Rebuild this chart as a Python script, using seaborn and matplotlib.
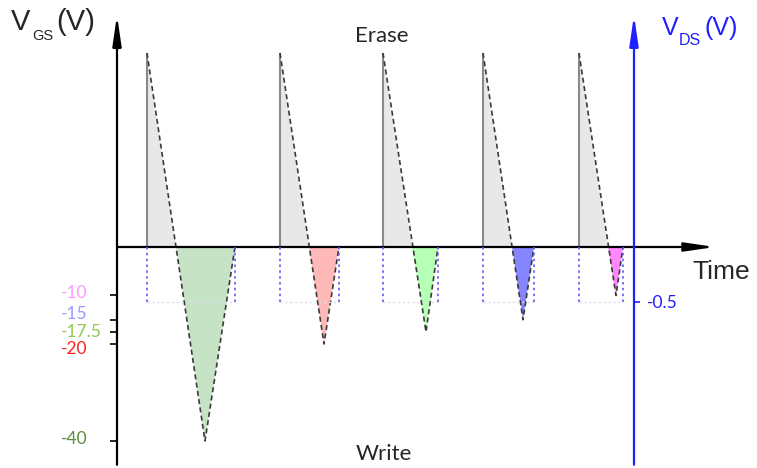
import matplotlib
matplotlib.use("Agg")
import matplotlib.pyplot as plt
import seaborn as sns
import pandas as pd

# Pulse timing (arbitrary time units) and voltage levels
pulse_start = [3.0, 16.3, 26.6, 36.6, 46.2]
zero_cross = [5.9, 19.2, 29.5, 39.5, 49.1]
write_apex = [8.8, 20.7, 30.9, 40.6, 49.9]
pulse_end = [11.8, 22.2, 32.1, 41.7, 50.6]
erase_v = [40, 40, 40, 40, 40]
write_v = [-40, -20, -17.5, -15, -10]
write_labels = ["-40", "-20", "-17.5", "-15", "-10"]
vds_level = -0.5

write_colors = ["#c6e3c6", "#ffb8b8", "#b6ffb6", "#8585ff", "#ff88ff"]
label_colors = ["#5e8a3c", "#ff2020", "#92c850", "#9a9aff", "#ff99ff"]
label_shift = [0.4, -1.1, 0.0, 1.2, 0.5]  # nudges so the labels don't collide
blue = "#1f1fff"

sns.set_theme(style="white")
plt.rcParams["font.family"] = ["Lato", "DejaVu Sans"]

W, H = 757, 468
fig = plt.figure(figsize=(W / 100, H / 100), dpi=100)
ax = fig.add_axes([0, 0, 1, 1])
ax.set_xlim(-11.7, 64.0)
ax.set_ylim(-45.57, 50.93)
for s in ax.spines.values():
    s.set_visible(False)
ax.set_xticks([])


def px(x, y):
    return x / W, 1 - y / H


# waveform table for seaborn
rows = []
for i in range(len(pulse_start)):
    rows.append({"pulse": i, "t": pulse_start[i], "v": erase_v[i]})
    rows.append({"pulse": i, "t": write_apex[i], "v": write_v[i]})
    rows.append({"pulse": i, "t": pulse_end[i], "v": 0})
df = pd.DataFrame(rows)

# fills
for i in range(len(pulse_start)):
    ax.fill([pulse_start[i], pulse_start[i], zero_cross[i]], [0, erase_v[i], 0],
            color="#e8e8e8", lw=0, zorder=1)
    ax.fill([zero_cross[i], write_apex[i], pulse_end[i]], [0, write_v[i], 0],
            color=write_colors[i], lw=0, zorder=1)
ax.vlines(pulse_start, 0, erase_v, color="#8a8a8a", lw=1.5, zorder=2)

sns.lineplot(data=df, x="t", y="v", units="pulse", estimator=None, sort=False,
             color="#3a3a3a", lw=1.2, linestyle=(0, (3, 2)), ax=ax, zorder=3)
ax.set_xlabel("")
ax.set_ylabel("")

# axes drawn as arrows
arrow = dict(arrowstyle="-|>,head_length=1.5,head_width=0.22", lw=1.6,
             shrinkA=0, shrinkB=0)
ax.annotate("", xy=(0, 47.8), xytext=(0, -44.9),
            arrowprops=dict(arrow, color="black"), zorder=5)
ax.annotate("", xy=(59.8, 0), xytext=(0, 0),
            arrowprops=dict(arrow, color="black"), zorder=5)
ax.annotate("", xy=(51.7, 47.8), xytext=(51.7, -44.9),
            arrowprops=dict(arrow, color=blue), zorder=5)

# left ticks and coloured labels
ax.spines["left"].set_position(("data", 0))
ax.set_yticks(write_v)
ax.set_yticklabels([])
ax.tick_params(axis="y", direction="out", length=5, width=1.2, color="black", left=True)
for v, lab, c, d in zip(write_v, write_labels, label_colors, label_shift):
    ax.text(-5.6, v + d, lab, color=c, fontsize=12.5, ha="left", va="center")

# drain voltage on the right axis
ax2 = ax.twinx()
ax2.set_ylim(-2.009, 2.245)
for s in ax2.spines.values():
    s.set_visible(False)
ax2.spines["right"].set_position(("data", 51.7))
ax2.set_yticks([vds_level])
ax2.set_yticklabels(["-0.5"])
ax2.tick_params(axis="y", direction="out", length=4, width=1.2, color=blue,
                labelcolor=blue, labelsize=12.5, pad=5, right=True)
for s, e in zip(pulse_start, pulse_end):
    ax2.plot([s, e], [vds_level, vds_level], color="#dcdce6", lw=1.0,
             linestyle=(0, (1.5, 2)))
ax2.vlines(pulse_start + pulse_end, vds_level, 0, color="#5a5aff", lw=1.2,
           linestyle=(0, (1.5, 2)))

# text
fig.text(*px(382, 42), "Erase", fontsize=16, ha="center", va="baseline")
fig.text(*px(384, 460), "Write", fontsize=16, ha="center", va="baseline")
fig.text(*px(692, 279), "Time", fontsize=19, ha="left", va="baseline",
         family="Liberation Sans")
fig.text(*px(11, 30), "V", fontsize=21, ha="left", va="baseline", family="Liberation Sans")
fig.text(*px(32, 40), "GS", fontsize=10.5, ha="left", va="baseline", family="Liberation Sans")
fig.text(*px(56, 30), "(V)", fontsize=21, ha="left", va="baseline", family="Liberation Sans")
fig.text(*px(662, 35), "V", fontsize=18, ha="left", va="baseline", color=blue,
         family="Liberation Sans")
fig.text(*px(679, 45), "DS", fontsize=11.5, ha="left", va="baseline", color=blue,
         family="Liberation Sans")
fig.text(*px(705, 35), "(V)", fontsize=18, ha="left", va="baseline", color=blue,
         family="Liberation Sans")

fig.savefig("out.png", dpi=100)
